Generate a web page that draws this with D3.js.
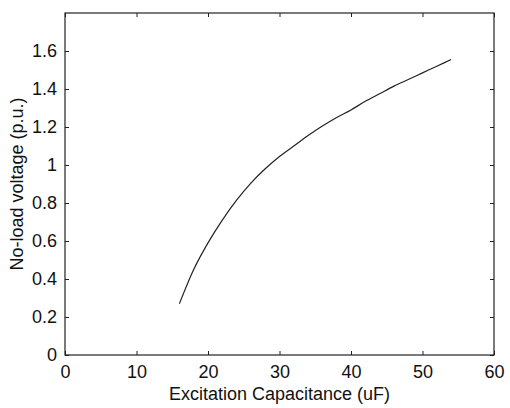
<!DOCTYPE html>
<html>
<head>
<meta charset="utf-8">
<script src="https://cdn.jsdelivr.net/npm/d3@7"></script>
<style>
  html, body { margin: 0; padding: 0; background: #fff; }
  svg text { font-family: "Liberation Sans", Arial, sans-serif; fill: #111; }
  .axis path { display: none; }
  .axis line { stroke: #222; stroke-width: 1; }
</style>
</head>
<body>
<div id="chart"></div>
<script>
// excitation capacitance (uF)
const capacitance = [16, 18, 20, 22, 24, 26, 28, 30, 32, 34, 36, 38, 40, 42, 44, 46, 48, 50, 52, 54];
// no-load voltage (p.u.)
const voltage = [0.27, 0.45, 0.59, 0.71, 0.815, 0.905, 0.98, 1.045, 1.10, 1.155, 1.205, 1.25, 1.29, 1.335, 1.375, 1.415, 1.45, 1.485, 1.52, 1.555];

const xTicks = [0, 10, 20, 30, 40, 50, 60];
const yTicks = [0, 0.2, 0.4, 0.6, 0.8, 1, 1.2, 1.4, 1.6];

const xLabel = 'Excitation Capacitance (uF)';
const yLabel = 'No-load voltage (p.u.)';

const width = 510, height = 408;
const margin = { top: 13, right: 16, bottom: 53, left: 65 };
const w = width - margin.left - margin.right;
const h = height - margin.top - margin.bottom;

const svg = d3.select('#chart').append('svg')
    .attr('width', width)
    .attr('height', height);

const x = d3.scaleLinear().domain([0, 60]).range([0, w]);
const y = d3.scaleLinear().domain([0, 1.8]).range([h, 0]);

const g = svg.append('g')
    .attr('transform', `translate(${margin.left},${margin.top})`);

// axes, ticks pointing inward
g.append('g')
    .attr('class', 'axis axis--x')
    .attr('transform', `translate(0,${h})`)
    .call(d3.axisBottom(x).tickValues(xTicks).tickSizeInner(-4).tickSizeOuter(0).tickPadding(10).tickFormat(d3.format('d')))
    .call(a => a.selectAll('text').style('font-size', '18px'));

g.append('g')
    .attr('class', 'axis axis--y')
    .call(d3.axisLeft(y).tickValues(yTicks).tickSizeInner(-4).tickSizeOuter(0).tickPadding(8).tickFormat(d => d3.format('~g')(d)))
    .call(a => a.selectAll('text').style('font-size', '18px'));

// mirrored ticks on top and right
g.append('g')
    .attr('class', 'axis')
    .call(d3.axisTop(x).tickValues(xTicks).tickSizeInner(-4).tickSizeOuter(0).tickFormat(''));

g.append('g')
    .attr('class', 'axis')
    .attr('transform', `translate(${w},0)`)
    .call(d3.axisRight(y).tickValues(yTicks).tickSizeInner(-4).tickSizeOuter(0).tickFormat(''));

// box
g.append('rect')
    .attr('x', 0)
    .attr('y', 0)
    .attr('width', w)
    .attr('height', h)
    .attr('fill', 'none')
    .attr('stroke', '#222')
    .attr('stroke-width', 1.2);

// curve
const line = d3.line()
    .x(i => x(capacitance[i]))
    .y(i => y(voltage[i]))
    .curve(d3.curveMonotoneX);

g.append('path')
    .datum(d3.range(capacitance.length))
    .attr('fill', 'none')
    .attr('stroke', '#222')
    .attr('stroke-width', 1.2)
    .attr('d', line);

// labels
svg.append('text')
    .attr('x', margin.left + w / 2)
    .attr('y', 400)
    .attr('text-anchor', 'middle')
    .style('font-size', '18px')
    .text(xLabel);

svg.append('text')
    .attr('transform', `translate(23,${margin.top + h / 2}) rotate(-90)`)
    .attr('text-anchor', 'middle')
    .style('font-size', '18px')
    .text(yLabel);
</script>
</body>
</html>
